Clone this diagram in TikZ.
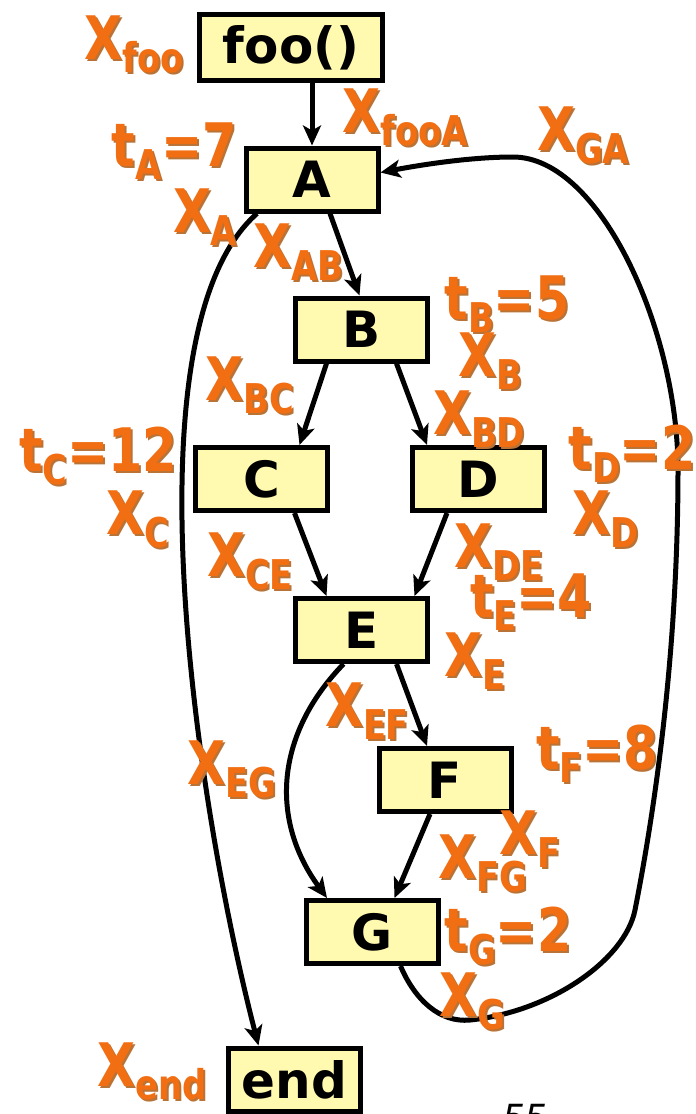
\documentclass[tikz,border=0pt]{standalone}
\usepackage{fontspec}
\newfontfamily\labfont[FakeStretch=0.82]{DejaVu Sans}
\newfontfamily\boxfont{DejaVu Sans}
\usetikzlibrary{arrows.meta}
\definecolor{orng}{RGB}{242,110,18}
\definecolor{shad}{RGB}{185,115,55}
\definecolor{boxfill}{RGB}{255,250,175}
\newcommand\labtxt[3]{#1\raisebox{-13pt}{\fontsize{41}{41}\selectfont #2}#3}
\newcommand\lab[3]{\makebox[0pt][l]{\kern2pt\raisebox{-2pt}{\color{shad}\labtxt{#1}{#2}{#3}}}\labtxt{#1}{#2}{#3}}
\begin{document}
\begin{tikzpicture}[x=1pt,y=-1pt,
  box/.style={draw=black, line width=5pt, fill=boxfill, minimum width=132pt, minimum height=63pt, inner sep=0pt, font=\boxfont\bfseries\fontsize{50}{50}\selectfont},
  lbl/.style={text=orng, inner sep=0pt, font=\labfont\bfseries\fontsize{60}{60}\selectfont},
  edge/.style={line width=5pt, -{Stealth[length=20pt,width=18pt,inset=5pt]}}]
\useasboundingbox[fill=white] (0,0) rectangle (696,1114);
% boxes
\node[box, minimum width=183pt, minimum height=66pt] (foo) at (291,47.5) {foo()};
\node[box] (A) at (312,179.5) {A};
\node[box] (B) at (361.5,329.5) {B};
\node[box] (C) at (261.5,479) {C};
\node[box] (D) at (478,479) {D};
\node[box] (E) at (361.5,630) {E};
\node[box] (F) at (445,780) {F};
\node[box] (G) at (372.5,932) {G};
\node[box] (end) at (294.5,1079.5) {end};
% straight edges
\draw[edge] (A.north |- foo.south) -- (A.north);
\draw[edge] ([xshift=18pt]A.south) -- ([xshift=-2pt]B.north);
\draw[edge] ([xshift=-35pt]B.south) -- ([xshift=38pt]C.north);
\draw[edge] ([xshift=35pt]B.south) -- ([xshift=-51pt]D.north);
\draw[edge] ([xshift=33pt]C.south) -- ([xshift=-35pt]E.north);
\draw[edge] ([xshift=-31pt]D.south) -- ([xshift=53pt]E.north);
\draw[edge] ([xshift=35pt]E.south) -- ([xshift=-18pt]F.north);
\draw[edge] ([xshift=-15pt]F.south) -- ([xshift=22pt]G.north);
% curved edges
\draw[edge] ([xshift=-18pt]E.south) .. controls (275,735) and (270,820) .. ([xshift=-45.5pt]G.north);
\draw[edge] ([xshift=-55pt]A.south) .. controls (125,330) and (195,800) .. ([xshift=-36pt]end.north);
\draw[edge] ([xshift=28pt]G.south) .. controls (415,1000) and (440,1023) .. (470,1020)
  .. controls (550,1012) and (625,960) .. (635,910)
  .. controls (662,773) and (678,620) .. (678,470)
  .. controls (678,330) and (600,157) .. (513,157)
  .. controls (470,157) and (420,165) .. ([yshift=7pt]A.east);
% labels
\node[lbl] (lfoo) at (134,45) {\lab{X}{foo}{}};
\node[lbl] (lfooA) at (405,118) {\lab{X}{fooA}{}};
\node[lbl] (lGA) at (583,136) {\lab{X}{GA}{}};
\node[lbl] (ltA) at (174,152) {\lab{t}{A}{=7}};
\node[lbl] (lA) at (205,218) {\lab{X}{A}{}};
\node[lbl] (lAB) at (298,253) {\lab{X}{AB}{}};
\node[lbl] (ltB) at (507,305) {\lab{t}{B}{=5}};
\node[lbl] (lB) at (490,362) {\lab{X}{B}{}};
\node[lbl] (lBC) at (250,386) {\lab{X}{BC}{}};
\node[lbl] (lBD) at (479,420) {\lab{X}{BD}{}};
\node[lbl] (ltC) at (98,457) {\lab{t}{C}{=12}};
\node[lbl] (lC) at (138,520) {\lab{X}{C}{}};
\node[lbl] (ltD) at (632,455) {\lab{t}{D}{=2}};
\node[lbl] (lD) at (605,520) {\lab{X}{D}{}};
\node[lbl] (lCE) at (250,562) {\lab{X}{CE}{}};
\node[lbl] (lDE) at (499,553) {\lab{X}{DE}{}};
\node[lbl] (ltE) at (531,603) {\lab{t}{E}{=4}};
\node[lbl] (lE) at (475,662) {\lab{X}{E}{}};
\node[lbl] (lEF) at (367,712) {\lab{X}{EF}{}};
\node[lbl] (ltF) at (597,755) {\lab{t}{F}{=8}};
\node[lbl] (lEG) at (232,770) {\lab{X}{EG}{}};
\node[lbl] (lF) at (530,840) {\lab{X}{F}{}};
\node[lbl] (lFG) at (483,864) {\lab{X}{FG}{}};
\node[lbl] (ltG) at (508,937) {\lab{t}{G}{=2}};
\node[lbl] (lG) at (472,1002) {\lab{X}{G}{}};
\node[lbl] (lend) at (152,1072) {\lab{X}{end}{}};
\node[inner sep=0pt, font=\boxfont\itshape\fontsize{36}{36}\selectfont] (pg) at (525,1118) {55};
\end{tikzpicture}
\end{document}
